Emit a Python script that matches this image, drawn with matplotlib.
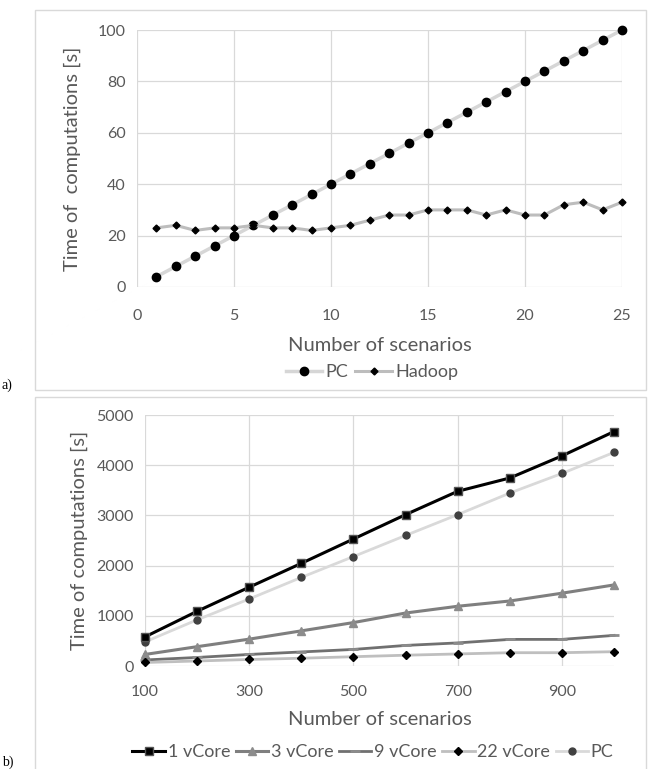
import numpy as np
import matplotlib.pyplot as plt
from matplotlib.patches import Rectangle

plt.rcParams['font.family'] = ['Lato', 'DejaVu Sans']

# panel a data
scen_a = [1, 2, 3, 4, 5, 6, 7, 8, 9, 10, 11, 12, 13, 14, 15, 16, 17, 18, 19, 20, 21, 22, 23, 24, 25]
pc_a = [4, 8, 12, 16, 20, 24, 28, 32, 36, 40, 44, 48, 52, 56, 60, 64, 68, 72, 76, 80, 84, 88, 92, 96, 100]
hadoop_a = [23, 24, 22, 23, 23, 24, 23, 23, 22, 23, 24, 26, 28, 28, 30, 30, 30, 28, 30, 28, 28, 32, 33, 30, 33]

# panel b data
scen_b = [100, 200, 300, 400, 500, 600, 700, 800, 900, 1000]
vcore1 = [580, 1090, 1570, 2045, 2530, 3015, 3480, 3745, 4185, 4670]
vcore3 = [230, 385, 535, 700, 865, 1055, 1190, 1295, 1450, 1615]
vcore9 = [120, 170, 230, 280, 330, 410, 460, 530, 530, 610]
vcore22 = [70, 100, 130, 155, 185, 215, 240, 265, 265, 285]
pc_b = [480, 920, 1335, 1765, 2180, 2600, 3015, 3445, 3835, 4255]

W, H = 649, 769
fig = plt.figure(figsize=(W / 100, H / 100), dpi=100)

grid_c = '#d9d9d9'
txt_c = '#595959'

# panel frames
fig.patches.append(Rectangle((35 / W, 1 - 390 / H), 611 / W, 380 / H, transform=fig.transFigure,
                             fill=False, edgecolor=grid_c, lw=1))
fig.patches.append(Rectangle((35 / W, 1 - 775 / H), 611 / W, 378 / H, transform=fig.transFigure,
                             fill=False, edgecolor=grid_c, lw=1))


def style(ax, xpad):
    for s in ax.spines.values():
        s.set_visible(False)
    ax.grid(True, color=grid_c, lw=0.9)
    ax.set_axisbelow(True)
    ax.tick_params(length=0, labelsize=11.5, colors=txt_c)
    ax.tick_params(axis='y', pad=8)
    ax.tick_params(axis='x', pad=xpad)


# ---- a) ----
ax1 = fig.add_axes([137 / W, 1 - 287 / H, 485 / W, 257 / H])
style(ax1, 16)
ax1.plot(scen_a, pc_a, color='#d6d6d6', lw=2.5, marker='o', ms=6, mfc='black', mec='black',
         label='PC', clip_on=False, zorder=3)
ax1.plot(scen_a, hadoop_a, color='#bdbdbd', lw=2.2, marker='D', ms=3.5, mfc='black', mec='black',
         label='Hadoop', clip_on=False, zorder=3)
ax1.set_xlim(0, 25)
ax1.set_ylim(0, 100)
ax1.set_xticks(np.arange(0, 26, 5))
ax1.set_yticks(np.arange(0, 101, 20))
ax1.set_xlabel('Number of scenarios', fontsize=14.5, color=txt_c, labelpad=10)
ax1.set_ylabel('Time of  computations [s]', fontsize=14.5, color=txt_c, labelpad=12)
ax1.legend(loc='center', bbox_to_anchor=(372 / W, 1 - 372 / H), bbox_transform=fig.transFigure,
           ncol=2, frameon=False, fontsize=13, handlelength=2.0, handletextpad=0.2,
           columnspacing=0.4, labelcolor=txt_c)

# ---- b) ----
ax2 = fig.add_axes([145 / W, 1 - 666 / H, 469 / W, 251 / H])
style(ax2, 14)
ax2.plot(scen_b, vcore1, color='black', lw=2.2, marker='s', ms=6, mfc='black', mec='#555555',
         label='1 vCore', clip_on=False, zorder=5)
ax2.plot(scen_b, vcore3, color='#7f7f7f', lw=2.2, marker='^', ms=6, mfc='#8c8c8c', mec='#8c8c8c',
         label='3 vCore', clip_on=False, zorder=4)
ax2.plot(scen_b, vcore9, color='#707070', lw=2.0, marker='_', ms=7, mew=2, mec='#8c8c8c',
         label='9 vCore', clip_on=False, zorder=4)
ax2.plot(scen_b, vcore22, color='#bfbfbf', lw=2.0, marker='D', ms=4.5, mfc='black', mec='black',
         label='22 vCore', clip_on=False, zorder=4)
ax2.plot(scen_b, pc_b, color='#d9d9d9', lw=2.0, marker='o', ms=5, mfc='#404040', mec='#404040',
         label='PC', clip_on=False, zorder=3)
ax2.set_xlim(100, 1000)
ax2.set_ylim(0, 5000)
ax2.set_xticks(np.arange(100, 1000, 200))
ax2.set_yticks(np.arange(0, 5001, 1000))
ax2.set_xlabel('Number of scenarios', fontsize=14.5, color=txt_c, labelpad=8)
ax2.set_ylabel('Time of computations [s]', fontsize=14.5, color=txt_c, labelpad=6)
ax2.legend(loc='center', bbox_to_anchor=(373 / W, 1 - 752 / H), bbox_transform=fig.transFigure,
           ncol=5, frameon=False, fontsize=13, handlelength=1.8, handletextpad=0.15,
           columnspacing=0.3, labelcolor=txt_c)

fig.text(2 / W, 1 - 385 / H, 'a)', fontsize=10, family='Liberation Serif', va='center')
fig.text(2 / W, 1 - 762 / H, 'b)', fontsize=10, family='Liberation Serif', va='center')

fig.savefig('out.png', dpi=100)
